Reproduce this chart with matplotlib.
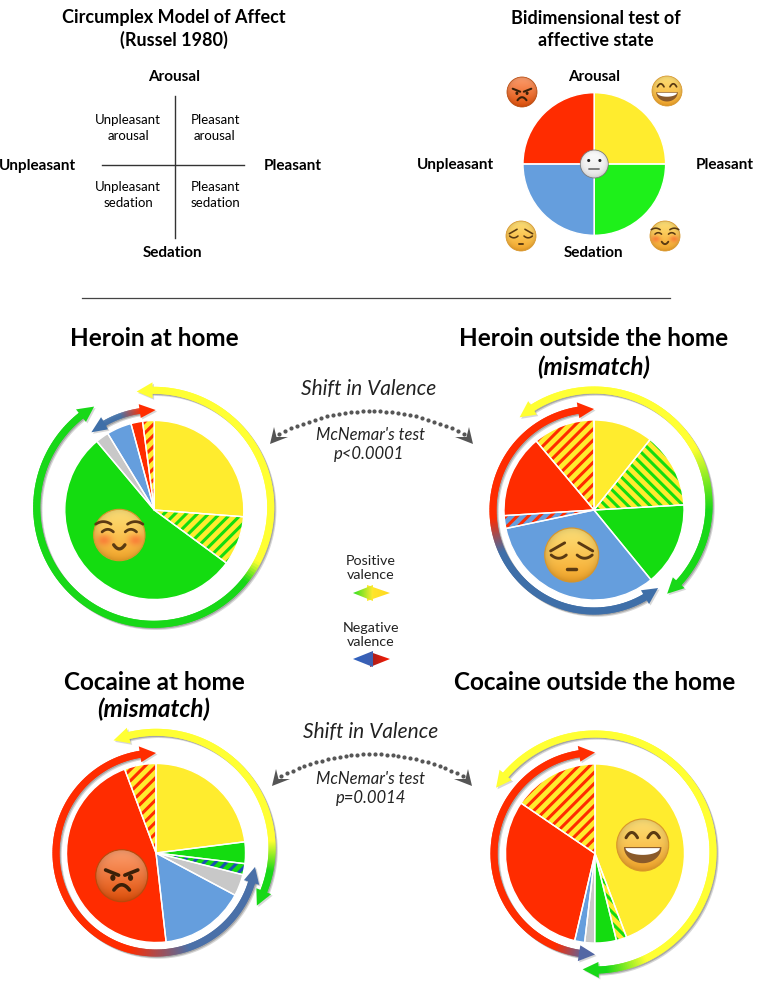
import numpy as np
import matplotlib
matplotlib.use('Agg')
import matplotlib.pyplot as plt
from matplotlib.collections import LineCollection
from matplotlib.patches import Circle, Polygon, Ellipse

plt.rcParams['font.family'] = ['Lato', 'DejaVu Sans']
plt.rcParams['hatch.linewidth'] = 2.2

W, H = 762, 981

# pie data, percent of sessions, clockwise from the top
quadrants = [25, 25, 25, 25]
heroin_home = [26.2, 8.9, 53.8, 2.4, 4.5, 2.1, 2.1]
heroin_out = [10.7, 13.4, 15.0, 32.6, 2.3, 14.9, 11.1]
cocaine_home = [23.0, 3.9, 2.0, 3.9, 15.4, 46.1, 5.7]
cocaine_out = [44.3, 1.9, 3.9, 1.8, 1.8, 30.9, 15.5]

YEL = '#FFEC2E'
GRN = '#14DC10'
BLU = '#659EDD'
RED = '#FF2C00'
GRY = '#C8C8C8'

fwd = '///'
back = '\\\\\\'

quadrant_colors = [YEL, '#1EF01A', BLU, RED]
heroin_home_colors = [YEL, YEL, GRN, GRY, BLU, RED, YEL]
heroin_home_hatch = [None, (GRN, fwd), None, None, None, None, (RED, fwd)]
heroin_out_colors = [YEL, YEL, GRN, BLU, BLU, RED, YEL]
heroin_out_hatch = [None, (GRN, back), None, None, (RED, fwd), None, (RED, fwd)]
cocaine_home_colors = [YEL, GRN, GRN, GRY, BLU, RED, YEL]
cocaine_home_hatch = [None, None, ('#1A50B0', fwd), None, None, None, (RED, fwd)]
cocaine_out_colors = [YEL, YEL, GRN, GRY, BLU, RED, YEL]
cocaine_out_hatch = [None, (GRN, back), None, None, None, None, (RED, fwd)]

fig = plt.figure(figsize=(W / 100, H / 100), dpi=100)
ax = fig.add_axes([0, 0, 1, 1])


def Y(y):
    return H - y


def label(x, y, s, size=9.5, weight='normal', style='normal', color='#000000', spacing=1.4):
    ax.text(x, Y(y + 1), s, ha='center', va='center', fontsize=size, fontweight=weight,
            fontstyle=style, color=color, linespacing=spacing)


def draw_pie(cx, cy, r, values, colors, hatches=None):
    wedges, _ = ax.pie(values, colors=colors, startangle=90, counterclock=False,
                       center=(cx, Y(cy)), radius=r, normalize=True,
                       wedgeprops=dict(linewidth=0))
    for i, w in enumerate(wedges):
        w.set_zorder(2)
        if hatches and hatches[i]:
            w.set_edgecolor(hatches[i][0])
            w.set_hatch(hatches[i][1])
    top, _ = ax.pie(values, colors=colors, startangle=90, counterclock=False,
                    center=(cx, Y(cy)), radius=r, normalize=True,
                    wedgeprops=dict(linewidth=1.0, edgecolor='white', fill=False))
    for w in top:
        w.set_zorder(3)


def polar(cx, cy, r, a):
    t = np.radians(a)
    return cx + r * np.sin(t), Y(cy) + r * np.cos(t)


def arc_arrow(cx, cy, r, a0, a1, angles, colors, width=7.0, hl=16.0, hw=8.0):
    # clockwise arc from a0 to a1 (degrees from the top) with a head on each end
    rgb = np.array([matplotlib.colors.to_rgb(c) for c in colors])

    def col(a):
        return np.array([np.interp(a, angles, rgb[:, k]) for k in range(3)]).T

    da = np.degrees(hl / r)
    a = np.linspace(a0 + da * 0.8, a1 - da * 0.8, 240)
    x, y = polar(cx, cy, r, a)
    pts = np.column_stack([x, y])
    segs = [pts[i:i + 3] for i in range(len(pts) - 2)]
    for dx, dy, al in [(2.2, -2.2, 0.12), (1.2, -1.2, 0.18)]:
        shadow = [s + [dx, dy] for s in segs]
        ax.add_collection(LineCollection(shadow, colors=[(0.3, 0.3, 0.3, al)], linewidths=width * 0.72,
                                         capstyle='butt', zorder=4))
    ax.add_collection(LineCollection(segs, colors=col(a[:-2]), linewidths=width * 0.72,
                                     capstyle='butt', zorder=5))
    for end, sgn in [(a0, 1), (a1, -1)]:
        tip = polar(cx, cy, r, end)
        b1 = polar(cx, cy, r + hw, end + sgn * da)
        b2 = polar(cx, cy, r - hw, end + sgn * da)
        ax.add_patch(Polygon([(tip[0] + 1.5, tip[1] - 1.5), (b1[0] + 1.5, b1[1] - 1.5), (b2[0] + 1.5, b2[1] - 1.5)],
                             fc=(0.3, 0.3, 0.3, 0.22), ec='none', zorder=4))
        ax.add_patch(Polygon([tip, b1, b2], fc=col(end + sgn * da * 0.6), ec='none', zorder=5))


def gradient_poly(pts, c0, c1, zorder=5):
    rgb0, rgb1 = np.array(matplotlib.colors.to_rgb(c0)), np.array(matplotlib.colors.to_rgb(c1))
    t = np.linspace(0, 1, 32)[None, :, None]
    img = rgb0 + (rgb1 - rgb0) * t
    pts = [(x, Y(y)) for x, y in pts]
    xs = [p[0] for p in pts]
    ys = [p[1] for p in pts]
    im = ax.imshow(img, extent=(min(xs), max(xs), min(ys), max(ys)), interpolation='bilinear', zorder=zorder)
    im.set_clip_path(Polygon(pts, transform=ax.transData))


def dotted_link(x0, x1, y_end, y_peak):
    # dotted arc between the two pies, with a swept head on each end
    t = np.linspace(0, 1, 32)
    x = x0 + 9 + (x1 - x0 - 18) * t
    y = y_end - 10 + (y_peak - y_end + 10) * 4 * t * (1 - t)
    ax.plot(x, Y(y), ls='none', marker='o', ms=2.0, color='#555555', zorder=4)
    for tip, sgn in [(x0, 1), (x1, -1)]:
        head = [(tip, Y(y_end)), (tip + sgn * 4, Y(y_end - 17)), (tip + sgn * 6.5, Y(y_end - 7)),
                (tip + sgn * 18, Y(y_end - 7))]
        ax.add_patch(Polygon(head, fc='#555555', ec='none', zorder=4))


def curve(x, y, r, u, v, color, lw):
    ax.plot(x + r * np.asarray(u), Y(y) + r * np.asarray(v), color=color, lw=lw * r / 26,
            solid_capstyle='round', zorder=8)


def bow(u0, u1, v0, h, n=30):
    u = np.linspace(u0, u1, n)
    s = (u - u0) / (u1 - u0)
    return u, v0 + 4 * h * s * (1 - s)


def emoji(x, y, r, kind):
    top, bottom = {'angry': ('#FFA070', '#E0500A'), 'neutral': ('#FFFFFF', '#E6E6E6')}.get(kind, ('#FFE27A', '#F5A62A'))
    n = 64
    vv, uu = np.mgrid[0:1:n * 1j, -1:1:n * 1j]
    v2 = vv * 2 - 1
    d = np.clip(np.hypot(uu, v2), 0, 1)[..., None]
    c0, c1 = np.array(matplotlib.colors.to_rgb(top)), np.array(matplotlib.colors.to_rgb(bottom))
    img = c0 + (c1 - c0) * vv[..., None]
    edge = '#D9962A' if kind != 'angry' else '#B84A0C'
    if kind == 'neutral':
        edge = '#777777'
    img = img * (1 - 0.12 * d ** 6)
    if kind == 'blush':
        for su in (-1, 1):
            g = np.exp(-(((uu - su * 0.62) / 0.3) ** 2 + ((v2 - 0.2) / 0.22) ** 2))[..., None]
            img = img * (1 - 0.7 * g) + np.array([0.98, 0.42, 0.2]) * 0.7 * g
    circ = Circle((x, Y(y)), r, transform=ax.transData)
    im = ax.imshow(img, extent=(x - r, x + r, Y(y) - r, Y(y) + r), interpolation='bilinear', zorder=6)
    im.set_clip_path(circ)
    ax.add_patch(Circle((x, Y(y)), r, fc='none', ec=edge, lw=0.8 * max(r / 26, 0.7), zorder=7))
    dark = '#5A3A12'
    if kind == 'blush':
        for su in (-1, 1):
            curve(x, y, r, *bow(su * 0.62 - 0.3, su * 0.62 + 0.3, 0.42, 0.1), dark, 2.0)
            curve(x, y, r, *bow(su * 0.45 - 0.22, su * 0.45 + 0.22, 0.12, 0.1), dark, 2.0)
        u, v = bow(-0.22, 0.22, -0.38, -0.16)
        curve(x, y, r, u, v, dark, 2.4)
    elif kind == 'pensive':
        for su in (-1, 1):
            curve(x, y, r, [su * 0.78, su * 0.26], [0.15, 0.45], dark, 2.0)
            curve(x, y, r, *bow(su * 0.48 - 0.28, su * 0.48 + 0.28, 0.0, -0.12), dark, 2.0)
        curve(x, y, r, [-0.16, 0.16], [-0.52, -0.52], dark, 2.4)
    elif kind == 'grin':
        for su in (-1, 1):
            curve(x, y, r, *bow(su * 0.42 - 0.22, su * 0.42 + 0.22, 0.28, 0.2), dark, 2.2)
        t = np.linspace(0, np.pi, 40)
        mouth = np.column_stack([x + r * 0.72 * np.cos(t), Y(y) + r * (-0.08 - 0.62 * np.sin(t))])
        ax.add_patch(Polygon(mouth, fc='#8A5A2A', ec='none', zorder=8))
        t2 = np.linspace(0, np.pi, 30)
        teeth = np.column_stack([x + r * 0.66 * np.cos(t2), Y(y) + r * (-0.12 - 0.26 * np.sin(t2))])
        ax.add_patch(Polygon(teeth, fc='white', ec='none', zorder=9))
    elif kind == 'angry':
        for su in (-1, 1):
            curve(x, y, r, [su * 0.62, su * 0.12], [0.22, 0.02], '#3A2008', 2.6)
            ax.add_patch(Ellipse((x + su * 0.34 * r, Y(y) - 0.08 * r), 0.2 * r, 0.24 * r, fc='#3A2008', ec='none', zorder=8))
        u, v = bow(-0.3, 0.3, -0.55, 0.2)
        curve(x, y, r, u, v, '#3A2008', 2.6)
    elif kind == 'neutral':
        for su in (-1, 1):
            ax.add_patch(Circle((x + su * 0.4 * r, Y(y) + 0.25 * r), 0.11 * r, fc='#222222', ec='none', zorder=8))
        curve(x, y, r, [-0.36, 0.36], [-0.35, -0.35], '#777777', 2.5)


# circumplex model
label(174, 17, 'Circumplex Model of Affect', 13, 'bold')
label(174, 39, '(Russel 1980)', 13, 'bold')
ax.plot([174.5, 174.5], [Y(96), Y(238)], color='#333333', lw=1.0)
ax.plot([102, 244], [Y(165), Y(165)], color='#333333', lw=1.0)
label(174, 76, 'Arousal', 11, 'bold')
label(173, 252, 'Sedation', 11, 'bold')
label(37, 165, 'Unpleasant', 11, 'bold')
label(293, 165, 'Pleasant', 11, 'bold')
label(128, 127, 'Unpleasant\narousal')
label(215, 127, 'Pleasant\narousal')
label(128, 194, 'Unpleasant\nsedation')
label(215, 194, 'Pleasant\nsedation')

# bidimensional test
label(596, 17, 'Bidimensional test of', 13, 'bold')
label(596, 40, 'affective state', 13, 'bold')
label(594, 76, 'Arousal', 11, 'bold')
label(594, 252, 'Sedation', 11, 'bold')
label(455, 164, 'Unpleasant', 11, 'bold')
label(725, 164, 'Pleasant', 11, 'bold')
draw_pie(594.3, 164, 71.3, quadrants, quadrant_colors)
emoji(594.3, 164, 14, 'neutral')
emoji(522, 92, 15, 'angry')
emoji(667, 91, 15, 'grin')
emoji(521, 236, 15, 'pensive')
emoji(665, 236, 15, 'blush')

ax.plot([82, 670], [Y(298), Y(298)], color='#444444', lw=0.9)

# heroin
label(154, 337, 'Heroin at home', 17.5, 'bold')
label(594, 337, 'Heroin outside the home', 17.5, 'bold')
label(594, 366, '(mismatch)', 17.5, 'bold', 'italic')
draw_pie(154.3, 510, 89.5, heroin_home, heroin_home_colors, heroin_home_hatch)
draw_pie(594, 510, 90, heroin_out, heroin_out_colors, heroin_out_hatch)
arc_arrow(153.7, 507.3, 117, -8.4, 329.4, [117, 128], ['#FFFF33', '#18D818'])
arc_arrow(154.3, 510, 100, -39, 0.8, [-20, -8], ['#3F6FA8', '#FF2C00'], width=5.5, hw=7)
arc_arrow(594, 505, 115, -40.3, 140.5, [60, 92], ['#FFFF33', '#18D818'])
arc_arrow(594, 510, 101, 140.6, 360, [245, 265], ['#3F6FA8', '#FF2C00'])
emoji(119.3, 535, 25.7, 'blush')
emoji(571.7, 555, 27, 'pensive')

# cocaine
label(154, 681, 'Cocaine at home', 17.5, 'bold')
label(154, 708, '(mismatch)', 17.5, 'bold', 'italic')
label(595, 681, 'Cocaine outside the home', 17.5, 'bold')
draw_pie(156, 853, 89.5, cocaine_home, cocaine_home_colors, cocaine_home_hatch)
draw_pie(595, 853.5, 89.5, cocaine_out, cocaine_out_colors, cocaine_out_hatch)
arc_arrow(156, 848.3, 116, -21.5, 119.6, [86, 101], ['#FFFF33', '#18D818'])
arc_arrow(156, 853, 100, 98, 360, [160, 195], ['#4A70A8', '#FF2C00'])
arc_arrow(595, 852, 118, -57, 186, [154, 174], ['#FFFF33', '#18D818'])
arc_arrow(595, 853.5, 101, 180, 360, [185, 203], ['#4F68A8', '#FF2C00'])
emoji(121.7, 875.7, 26, 'angry')
emoji(642.7, 845, 26, 'grin')

# shift annotations
label(369, 388, 'Shift in Valence', 15, 'normal', 'italic', '#222222')
label(370, 434, "McNemar's test", 12, 'normal', 'italic', '#222222')
label(369, 453, 'p<0.0001', 12, 'normal', 'italic', '#222222')
dotted_link(270, 473, 444, 411)
label(371, 731, 'Shift in Valence', 15, 'normal', 'italic', '#222222')
label(371, 778, "McNemar's test", 12, 'normal', 'italic', '#222222')
label(371, 797, 'p=0.0014', 12, 'normal', 'italic', '#222222')
dotted_link(272, 472, 786, 754)

# valence key
label(371, 567, 'Positive\nvalence', 10.3, color='#222222', spacing=1.2)
gradient_poly([(367, 585), (390, 593), (367, 601)], '#FFE92E', '#FFD820', 5)
gradient_poly([(353, 593), (373, 585), (373, 601)], '#30E020', '#FFE92E', 6)
label(371, 634, 'Negative\nvalence', 10.3, color='#222222', spacing=1.2)
gradient_poly([(370, 652), (390, 659), (370, 667)], '#A02020', '#FF1A00', 5)
gradient_poly([(353, 659), (373, 651), (373, 667)], '#2F62C0', '#3F5FB0', 6)

ax.set_xlim(0, W)
ax.set_ylim(0, H)
ax.set_aspect('equal')
ax.axis('off')

plt.savefig('out.png', dpi=100)
